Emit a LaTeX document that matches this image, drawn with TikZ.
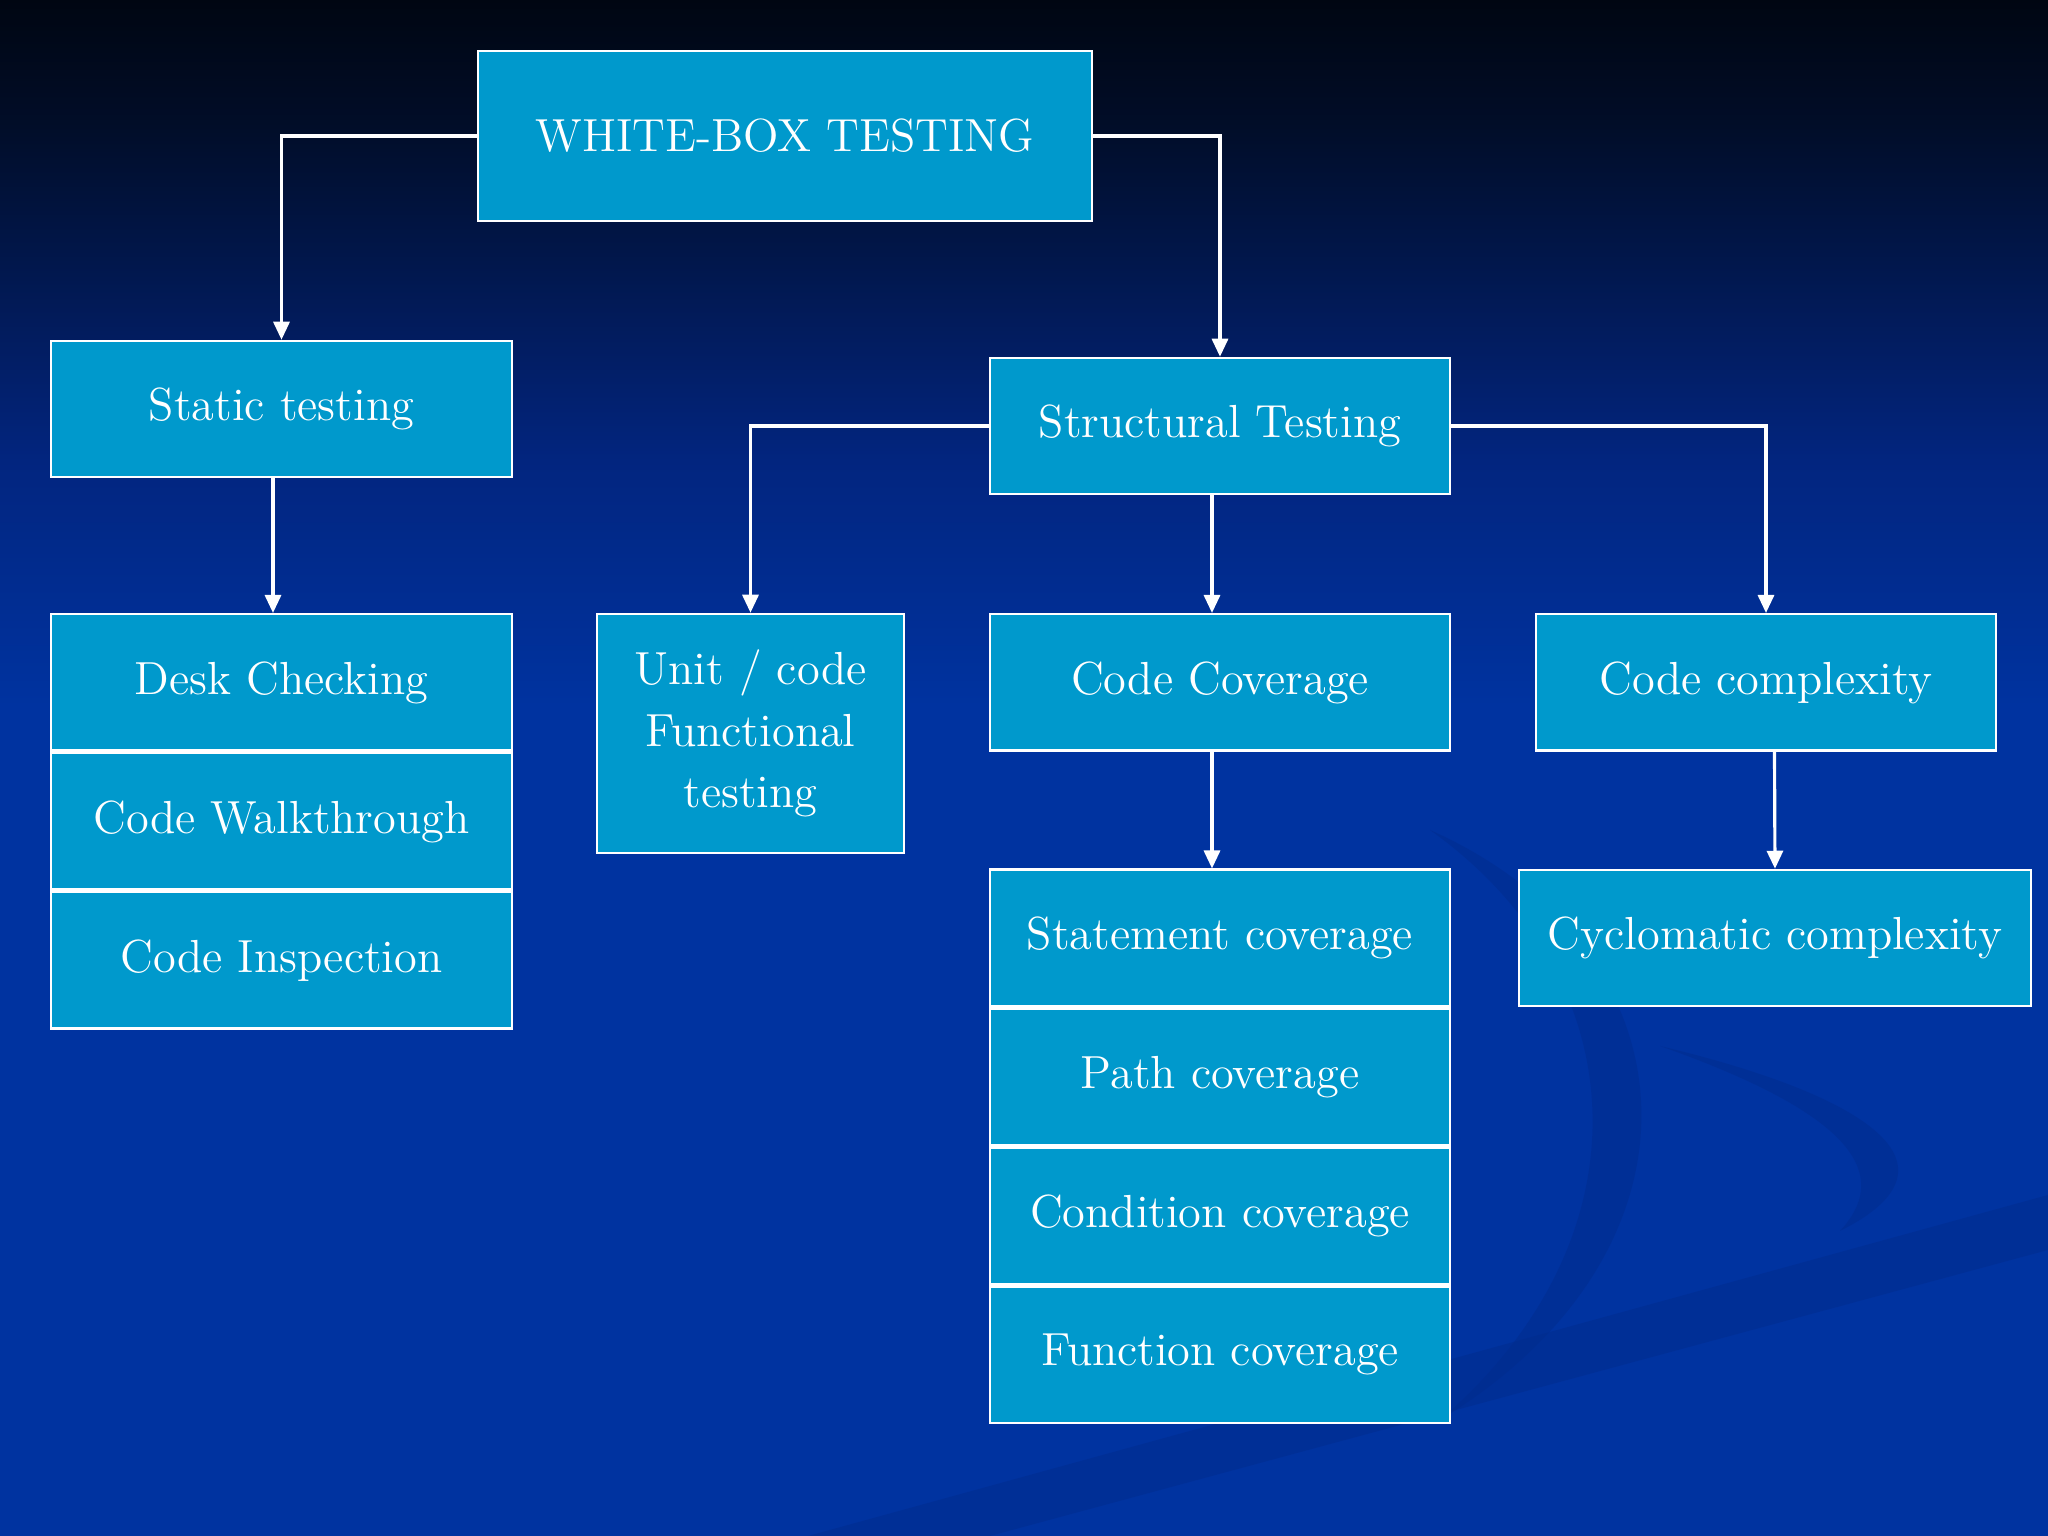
\documentclass[tikz,border=0pt]{standalone}
\usepackage{tikz}
\usetikzlibrary{arrows.meta,positioning}

\definecolor{bgtop}{HTML}{000612}
\definecolor{bghigh}{HTML}{010D28}
\definecolor{bgmid}{HTML}{02257F}
\definecolor{bgbot}{HTML}{0033A0}
\definecolor{boxfill}{HTML}{0099CC}
\definecolor{swoosh}{HTML}{002B8C}

\pgfdeclareverticalshading{slidebg}{100bp}{%
  color(0bp)=(bgbot); color(52bp)=(bgbot); color(60bp)=(bgmid);
  color(71bp)=(bghigh); color(75bp)=(bgtop); color(100bp)=(bgtop)}

\begin{document}
\begin{tikzpicture}[
  >={Triangle[length=1.8mm,width=1.6mm]},
  wbox/.style={rectangle, draw=white, fill=boxfill, line width=0.7pt,
               text=white, align=center, inner sep=2pt,
               font=\fontsize{13.2}{17.4}\selectfont},
  flow/.style={->, draw=white, line width=0.9pt},
  swoop/.style={fill=swoosh, opacity=0.45},
]

% --- slide background (fixes the bounding box) ---
\shade[shading=slidebg] (0,0) rectangle (20.48,15.36);
\useasboundingbox (0,0) rectangle (20.48,15.36);

% --- faint template swooshes, bottom right ---
\fill[swoop]
  (14.30,7.06) .. controls (17.00,5.86) and (17.20,2.86) .. (14.40,1.16)
  .. controls (16.50,2.96) and (16.40,5.56) .. (14.30,7.06);
\fill[swoop]
  (16.60,4.90) .. controls (18.70,4.40) and (19.70,3.70) .. (18.40,3.05)
  .. controls (19.00,3.70) and (18.30,4.30) .. (16.60,4.90);
\fill[swoop]
  (8.08,0) -- (20.48,3.41) -- (20.48,2.86) -- (9.90,0) -- cycle;

% ============================ NODES =================================
\node[wbox, minimum width=6.14cm, minimum height=1.70cm] (root)
  at (7.85,14.00) {WHITE-BOX TESTING};

% left branch -- static testing
\node[wbox, minimum width=4.61cm, minimum height=1.36cm] (static)
  at (2.815,11.27) {Static testing};
\node[wbox, minimum width=4.61cm, minimum height=1.365cm] (desk)
  at (2.815,8.535) {Desk Checking};
\node[wbox, minimum width=4.61cm, minimum height=1.365cm, below=0pt of desk]
  (walk) {Code Walkthrough};
\node[wbox, minimum width=4.61cm, minimum height=1.365cm, below=0pt of walk]
  (inspect) {Code Inspection};

% right branch -- structural testing
\node[wbox, minimum width=4.60cm, minimum height=1.36cm] (struct)
  at (12.20,11.10) {Structural Testing};
\node[wbox, minimum width=3.07cm, minimum height=2.39cm] (unit)
  at (7.505,8.025) {Unit / code\\Functional\\testing};
\node[wbox, minimum width=4.60cm, minimum height=1.365cm] (cov)
  at (12.20,8.535) {Code Coverage};
\node[wbox, minimum width=4.60cm, minimum height=1.365cm] (cplx)
  at (17.66,8.535) {Code complexity};

% coverage stack
\node[wbox, minimum width=4.60cm, minimum height=1.365cm] (stmt)
  at (12.20,5.98) {Statement coverage};
\node[wbox, minimum width=4.60cm, minimum height=1.365cm, below=0pt of stmt]
  (path) {Path coverage};
\node[wbox, minimum width=4.60cm, minimum height=1.365cm, below=0pt of path]
  (cond) {Condition coverage};
\node[wbox, minimum width=4.60cm, minimum height=1.365cm, below=0pt of cond]
  (func) {Function coverage};

\node[wbox, minimum width=5.12cm, minimum height=1.36cm] (cyclo)
  at (17.75,5.98) {Cyclomatic complexity};

% ============================ EDGES =================================
\draw[flow] (root.west) -| (static.north);
\draw[flow] (root.east) -| (struct.north);
\draw[flow] ([xshift=-0.085cm]static.south) -- ([xshift=-0.085cm]desk.north);
\draw[flow] (struct.west) -| (unit.north);
\draw[flow] ([xshift=-0.08cm]struct.south) -- ([xshift=-0.08cm]cov.north);
\draw[flow] (struct.east) -| (cplx.north);
\draw[flow] ([xshift=-0.08cm]cov.south) -- ([xshift=-0.08cm]stmt.north);
\draw[flow] ([xshift=0.085cm]cplx.south) -- (cyclo.north);

\end{tikzpicture}
\end{document}
